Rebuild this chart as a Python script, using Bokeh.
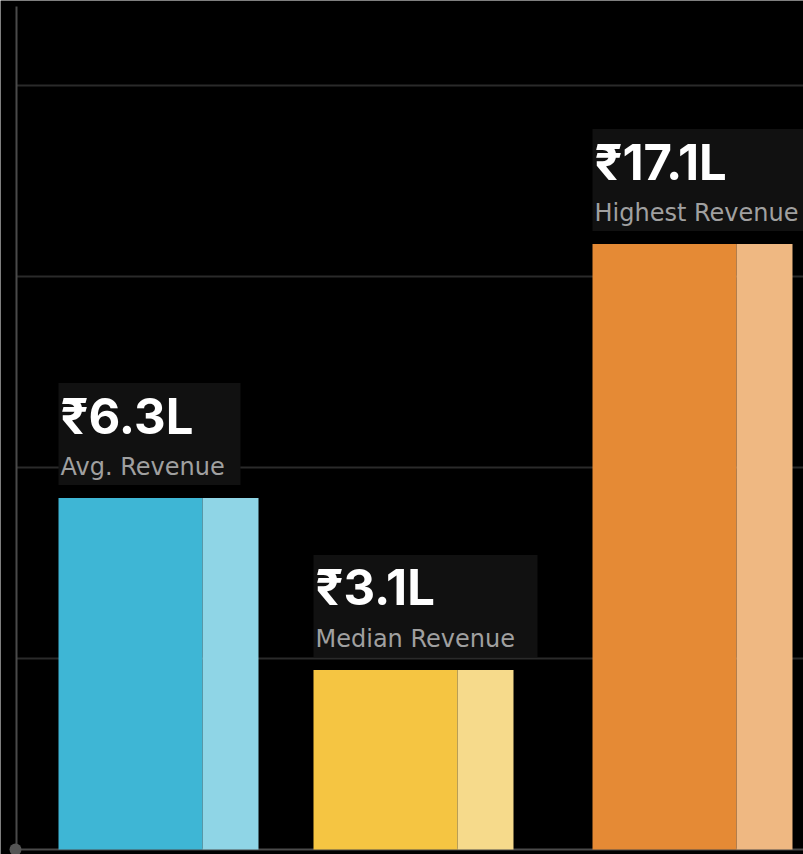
from bokeh.plotting import figure
from bokeh.models import ColumnDataSource, Range1d
from bokeh.core.properties import value
from bokeh.embed import file_html
from bokeh.resources import INLINE

# ---- data ----
categories = ["Avg. Revenue", "Median Revenue", "Highest Revenue"]
revenue_lakh = [6.3, 3.1, 17.1]
bar_height = [1.84, 0.94, 3.17]        # bar tops, in gridline steps
grid_values = [1, 2, 3, 4]

# ---- layout / style ----
W, H = 803, 854
PX = 191.0                             # pixels per gridline step
BASE_PX = 849                          # pixel row of value 0
bar_left = [58, 313, 592]
BAR_W = 200
SPLIT = 144
box_w = [182, 224, 230]
BOX_GAP, BOX_H = 13, 102
VAL_UP = 82                            # value baseline above bar top (px)
LAB_UP = 31                            # label baseline above bar top (px)
dark = ["#3eb6d5", "#f5c542", "#e58a35"]
light = ["#8fd5e6", "#f6da8b", "#efb882"]

p = figure(width=W, height=H, output_backend="svg", toolbar_location=None,
           x_range=Range1d(0, W), y_range=Range1d(-(H - BASE_PX) / PX, BASE_PX / PX),
           min_border=0, min_border_left=0, min_border_right=0,
           min_border_top=0, min_border_bottom=0)
p.background_fill_color = "#000000"
p.border_fill_color = "#000000"
p.outline_line_color = None
p.axis.visible = False
p.grid.visible = False

AX_X = 16
# gridlines
p.segment(x0=[AX_X] * len(grid_values), y0=grid_values, x1=[W] * len(grid_values), y1=grid_values,
          line_color="#2a2a2a", line_width=2)
# axis lines
p.segment(x0=[AX_X, AX_X], y0=[0, 0], x1=[W, AX_X], y1=[0, (BASE_PX - 6) / PX],
          line_color="#4a4a4a", line_width=2)

src = ColumnDataSource(dict(
    cat=categories,
    top=bar_height,
    l=bar_left,
    m=[b + SPLIT for b in bar_left],
    r=[b + BAR_W for b in bar_left],
    dark=dark, light=light,
    bb=[h + BOX_GAP / PX for h in bar_height],
    bt=[h + (BOX_GAP + BOX_H) / PX for h in bar_height],
    br=[b + w for b, w in zip(bar_left, box_w)],
    tx=[b + 2 for b in bar_left],
    vy=[h + VAL_UP / PX for h in bar_height],
    ly=[h + LAB_UP / PX for h in bar_height],
    vtxt=[f"₹{v}L" for v in revenue_lakh],
))

p.quad(left="l", right="m", bottom=0, top="top", fill_color="dark", line_color=None, source=src)
p.quad(left="m", right="r", bottom=0, top="top", fill_color="light", line_color=None, source=src)
p.quad(left="l", right="br", bottom="bb", top="bt", fill_color="#111111", line_color=None, source=src)

p.text(x="tx", y="vy", text="vtxt", source=src, text_color="#ffffff",
       text_font=value("Inter"), text_font_style="bold", text_font_size="49px",
       text_baseline="alphabetic", text_align="left")
p.text(x="tx", y="ly", text="cat", source=src, text_color="#a0a0a0",
       text_font=value("DejaVu Sans"), text_font_size="24px",
       text_baseline="alphabetic", text_align="left")

p.scatter(x=[AX_X - 1], y=[0], size=12, fill_color="#555555", line_color=None)

open("out.html", "w").write(file_html(p, INLINE))
